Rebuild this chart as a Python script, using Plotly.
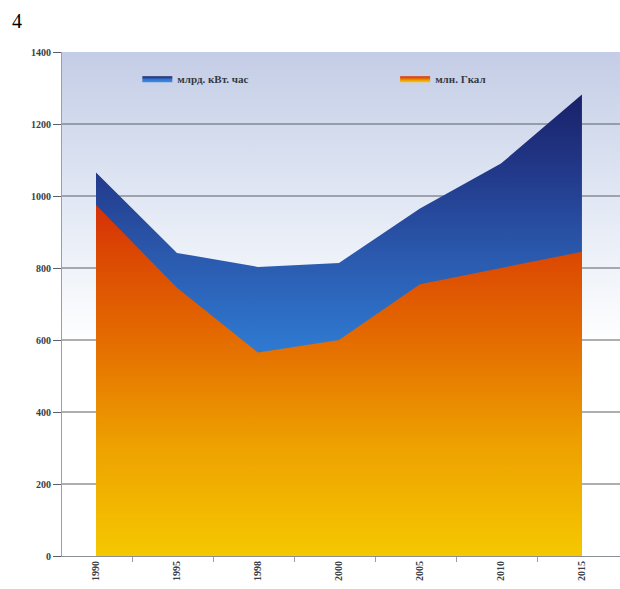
import plotly.graph_objects as go

# Years on the category axis
years = ["1990", "1995", "1998", "2000", "2005", "2010", "2015"]
# Electricity, billion kWh (back area)
electricity = [1065, 842, 803, 814, 965, 1090, 1282]
# Heat, million Gcal (front area)
heat = [975, 745, 565, 600, 755, 800, 845]
# Value axis ticks
y_ticks = [0, 200, 400, 600, 800, 1000, 1200, 1400]

x_pos = list(range(len(years)))
x_lo, x_hi = -0.42, len(years) - 1 + 0.47
y_max = y_ticks[-1]

fig = go.Figure()

# Plot background: white at the bottom, pale blue towards the top
fig.add_trace(go.Scatter(
    x=[x_lo, x_hi], y=[y_max, y_max], mode="lines", line=dict(width=0),
    fill="tozeroy",
    fillgradient=dict(type="vertical", start=0, stop=y_max,
                      colorscale=[[0, "#ffffff"], [0.42, "#ffffff"],
                                  [0.7, "#e2e8f4"], [1, "#c4cde6"]]),
    hoverinfo="skip", showlegend=False))

# Horizontal gridlines drawn over the background
gx, gy = [], []
for t in y_ticks[1:-1]:
    gx += [x_lo, x_hi, None]
    gy += [t, t, None]
fig.add_trace(go.Scatter(x=gx, y=gy, mode="lines",
                         line=dict(color="#5a5e66", width=1.2),
                         hoverinfo="skip", showlegend=False))

fig.add_trace(go.Scatter(
    x=x_pos, y=electricity, name="млрд. кВт. час", mode="lines",
    line=dict(width=0), fill="tozeroy", legend="legend",
    fillgradient=dict(type="vertical", start=0, stop=1300,
                      colorscale=[[0, "#3a8ce2"], [0.45, "#2f78d0"],
                                  [0.65, "#2a58ac"], [0.82, "#22398a"],
                                  [1, "#181f66"]]),
    fillcolor="#2a5bb0"))

fig.add_trace(go.Scatter(
    x=x_pos, y=heat, name="млн. Гкал", mode="lines",
    line=dict(width=0), fill="tozeroy", legend="legend2",
    fillgradient=dict(type="vertical", start=0, stop=1000,
                      colorscale=[[0, "#f5c800"], [0.3, "#eea200"],
                                  [0.6, "#e46c00"], [0.85, "#db4603"],
                                  [1, "#d42c0a"]]),
    fillcolor="#e46c00"))

legend_font = dict(family="Liberation Serif", size=11, color="#333a44",
                   weight="bold")

fig.update_layout(
    width=620, height=589,
    margin=dict(l=62, r=0, t=52, b=33),
    paper_bgcolor="white", plot_bgcolor="white",
    showlegend=True,
    legend=dict(orientation="h", x=0.135, y=0.948, xanchor="left",
                yanchor="middle", bgcolor="rgba(0,0,0,0)", font=legend_font),
    legend2=dict(orientation="h", x=0.597, y=0.948, xanchor="left",
                 yanchor="middle", bgcolor="rgba(0,0,0,0)", font=legend_font),
    xaxis=dict(range=[x_lo, x_hi], tickmode="array", tickvals=x_pos,
               ticktext=years, tickangle=-90, showgrid=False,
               zeroline=False, showline=True, linecolor="#8a8e96",
               ticks="", tickfont=dict(family="Liberation Serif", size=10,
                                       color="#3a3e46", weight="bold"),
               minor=dict(tickvals=[p + 0.45 for p in x_pos[:-1]],
                          ticks="outside", ticklen=5, tickcolor="#9a9ea6")),
    yaxis=dict(range=[0, y_max], tickmode="array", tickvals=y_ticks,
               showgrid=False, zeroline=False, showline=True,
               linecolor="#9a9ea6", ticks="outside", ticklen=8,
               tickcolor="#5a5e66",
               tickfont=dict(family="Liberation Serif", size=10,
                             color="#3a3e46", weight="bold")),
    annotations=[dict(text="4", xref="paper", yref="paper",
                      x=-0.094, y=1.062, xanchor="left", yanchor="middle",
                      showarrow=False,
                      font=dict(family="Liberation Serif", size=20,
                                color="black"))],
)

fig.write_html("out.html")
